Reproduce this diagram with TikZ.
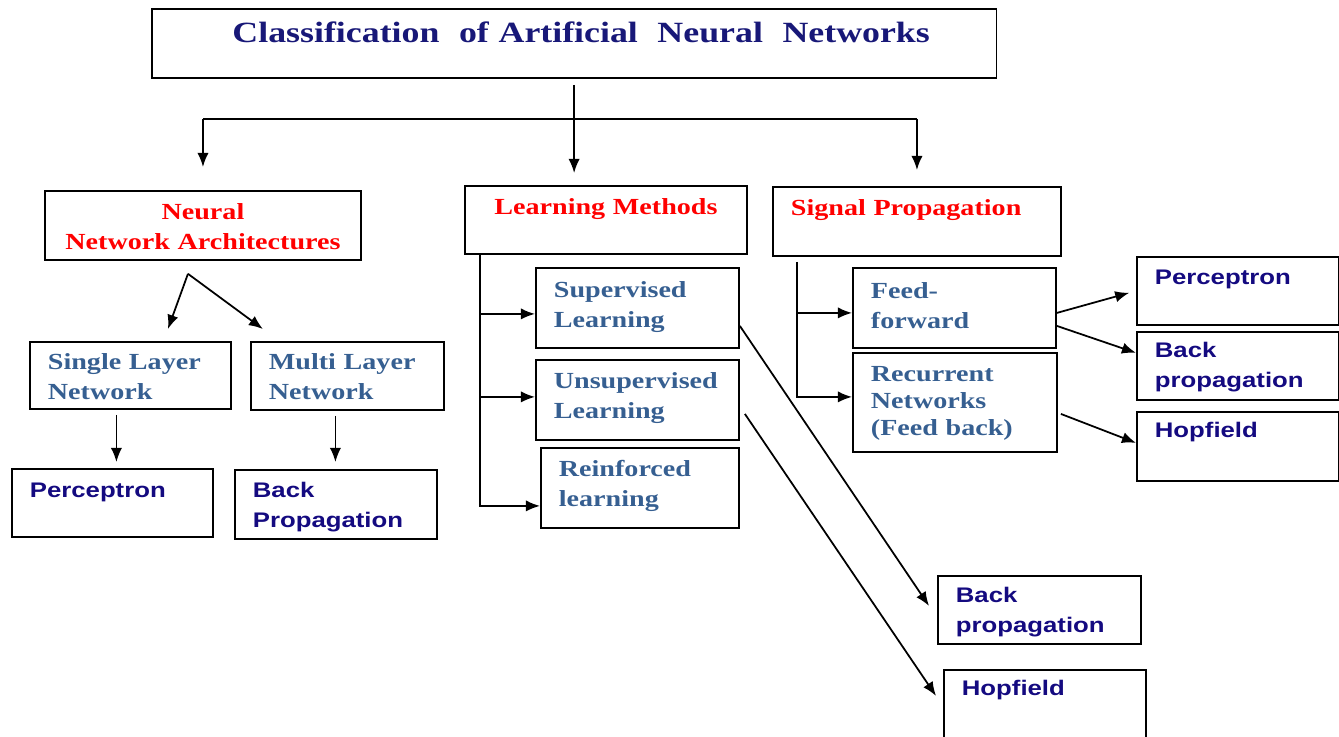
\documentclass[tikz,border=0pt]{standalone}
\usepackage{fontspec}
\usetikzlibrary{arrows.meta}
\setmainfont{Liberation Serif}[FakeStretch=1.22]
\newfontfamily\arialbf{Liberation Sans}[FakeStretch=1.22]
\definecolor{titleblue}{RGB}{24,24,120}
\definecolor{steel}{RGB}{54,95,145}
\definecolor{leafblue}{RGB}{20,10,128}
\hyphenpenalty=10000
\begin{document}
\begin{tikzpicture}[x=0.01cm, y=-0.01cm,
    box/.style={draw, line width=0.5pt, anchor=north west, align=left,
      inner xsep=0.18cm, inner ysep=0pt, text height=0.28cm},
    rmtext/.style={font=\fontsize{6.55}{8.5}\selectfont\bfseries},
    head/.style={rmtext, text=red},
    sub/.style={rmtext, text=steel},
    leaf/.style={font=\arialbf\fontsize{6}{8.3}\selectfont\bfseries, text=leafblue},
    arw/.style={-{Latex[length=4pt, width=3.2pt]}, line width=0.5pt}]
  \useasboundingbox (0,0) rectangle (1339,736);
  % top
  \node[box, inner xsep=0pt, text width=8.44cm, align=center, text height=0.34cm, text depth=0.35cm,
    font=\fontsize{8.35}{10}\selectfont\bfseries, text=titleblue] (title) at (151,8)
    {\hspace*{0.14cm}Classification\ \ of Artificial\ \ Neural\ \ Networks};
  \node[box, head, inner xsep=0.1cm, text width=2.96cm, align=center, text height=0.285cm, text depth=0.405cm] (nna) at (44,190)
    {Neural\\Network Architectures};
  \node[box, head, inner xsep=0.2cm, text width=2.42cm, align=center, text height=0.29cm, text depth=0.39cm] (lm) at (464,185) {Learning Methods};
  \node[box, head, text width=2.52cm, text height=0.29cm, text depth=0.40cm] (sp) at (772,186) {Signal Propagation};
  % architectures
  \node[box, sub, text width=1.65cm, text depth=0.39cm] (sln) at (29,341) {Single Layer\\Network};
  \node[box, sub, text width=1.57cm, text depth=0.40cm] (mln) at (250,341) {Multi Layer\\Network};
  \node[box, leaf, text width=1.65cm, text height=0.29cm, text depth=0.39cm] (perc1) at (11,468) {Perceptron};
  \node[box, leaf, text width=1.66cm, text depth=0.41cm] (bp1) at (234,469) {Back\\Propagation};
  % learning methods
  \node[box, sub, text width=1.67cm, text height=0.30cm, text depth=0.50cm] (sup) at (535,267) {Supervised\\Learning};
  \node[box, sub, text width=1.67cm, text height=0.29cm, text depth=0.51cm] (uns) at (535,359) {Unsupervised\\Learning};
  \node[box, sub, text width=1.62cm, text height=0.29cm, text depth=0.51cm] (rei) at (540,447) {Reinforced\\learning};
  \node[box, leaf, text width=1.67cm, text height=0.27cm, text depth=0.41cm] (bp3) at (937,575) {Back\\propagation};
  \node[box, leaf, text width=1.66cm, text height=0.26cm, text depth=0.54cm] (hop2) at (943,669) {Hopfield};
  % signal propagation
  \node[box, sub, text width=1.67cm, text height=0.31cm, text depth=0.49cm] (ff) at (852,267) {Feed-\\forward};
  \node[box, sub, font=\fontsize{6.55}{7.6}\selectfont\bfseries, text width=1.68cm, text height=0.29cm, text depth=0.70cm] (rec) at (852,352)
    {Recurrent\\Networks\\(Feed back)};
  \node[box, leaf, text width=1.66cm, text depth=0.40cm] (perc2) at (1136,256) {Perceptron};
  \node[box, leaf, text width=1.66cm, text height=0.26cm, text depth=0.42cm] (bp2) at (1136,331) {Back\\propagation};
  \node[box, leaf, text width=1.66cm, text height=0.26cm, text depth=0.43cm] (hop1) at (1136,411) {Hopfield};
  % connectors
  \coordinate (bar) at ([yshift=-0.40cm]title.south);
  \coordinate (fork) at ([xshift=-0.15cm, yshift=-0.13cm]nna.south);
  \coordinate (lmleg) at ([xshift=0.16cm]lm.south west);
  \coordinate (spleg) at ([xshift=0.25cm, yshift=-0.05cm]sp.south west);
  \draw[arw, shorten <=0.06cm, shorten >=0.12cm] (title.south) -- (title.south |- lm.north);
  \draw[line width=0.5pt] (bar -| nna.north) -- (bar -| sp.north);
  \draw[arw, shorten >=0.23cm] (bar -| nna.north) -- (nna.north);
  \draw[arw, shorten >=0.16cm] (bar -| sp.north) -- (sp.north);
  \draw[arw] (fork) -- ([xshift=0.375cm, yshift=0.12cm]sln.north);
  \draw[arw] (fork) -- ([xshift=-0.845cm, yshift=0.12cm]mln.north);
  \draw[arw, shorten <=0.05cm, shorten >=0.06cm] ([xshift=-0.14cm]sln.south) -- ([xshift=-0.14cm]sln.south |- perc1.north);
  \draw[arw, shorten <=0.05cm, shorten >=0.07cm] ([xshift=-0.12cm]mln.south) -- ([xshift=-0.12cm]mln.south |- bp1.north);
  \draw[arw] (lmleg) |- ([yshift=-0.18cm]rei.west);
  \draw[arw] ([yshift=-0.06cm]sup.west -| lmleg) -- ([yshift=-0.06cm]sup.west);
  \draw[arw] ([yshift=0.03cm]uns.west -| lmleg) -- ([yshift=0.03cm]uns.west);
  \draw[arw] ([yshift=-0.18cm]sup.east) -- ([xshift=-0.08cm, yshift=0.04cm]bp3.west);
  \draw[arw] ([xshift=0.05cm, yshift=-0.14cm]uns.east) -- ([xshift=-0.07cm, yshift=0.14cm]hop2.west);
  \draw[arw] (spleg) |- ([yshift=0.055cm]rec.west);
  \draw[arw] ([yshift=-0.05cm]ff.west -| spleg) -- ([yshift=-0.05cm]ff.west);
  \draw[arw, shorten >=0.07cm] ([yshift=-0.05cm]ff.east) -- (perc2.west);
  \draw[arw] ([yshift=-0.18cm]ff.east) -- ([yshift=0.13cm]bp2.west);
  \draw[arw] ([xshift=0.03cm, yshift=-0.115cm]rec.east) -- ([yshift=0.035cm]hop1.west);
\end{tikzpicture}
\end{document}
